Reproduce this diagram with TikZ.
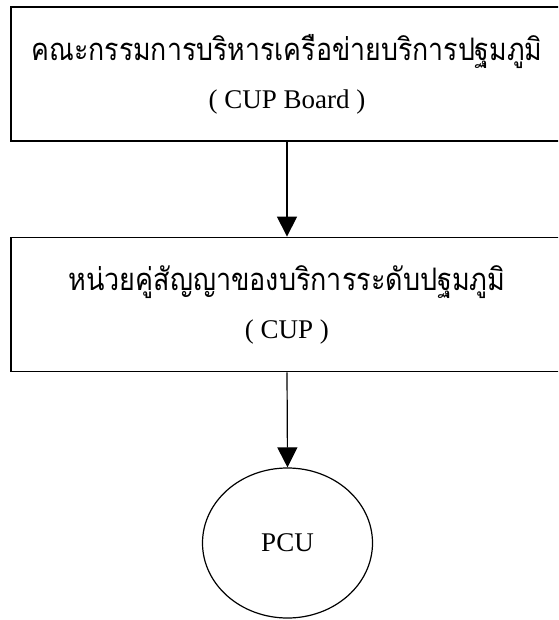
\documentclass[tikz,border=0pt]{standalone}
\usepackage{fontspec}
\usepackage{graphicx}
\setmainfont{Liberation Serif}
\newfontfamily\thaifont[Script=Thai]{Loma}
\usetikzlibrary{arrows.meta,shapes.geometric}
\newcommand{\thline}[2]{\resizebox{#1}{\height}{\thaifont\fontsize{31}{40}\selectfont #2}}
\begin{document}
\begin{tikzpicture}[x=1pt,y=-1pt,
  box/.style={draw,line width=1.8pt,minimum width=552pt,minimum height=134pt,align=center,inner sep=0pt,font=\fontsize{27}{48}\selectfont},
  conn/.style={line width=1.2pt,-{Triangle[length=20pt,width=20pt]}},
  pcustyle/.style={draw,ellipse,line width=1.2pt,minimum width=170pt,minimum height=150pt,inner sep=0pt,font=\fontsize{27}{32}\selectfont}]
\clip (0,0) rectangle (558,620);
\node[box] (board) at (287,74) {\thline{511pt}{คณะกรรมการบริหารเครือข่ายบริการปฐมภูมิ}\\( CUP Board )};
\node[box] (cup) at (287,304.5) {\thline{437pt}{หน่วยคู่สัญญาของบริการระดับปฐมภูมิ}\\( CUP )};
\node[pcustyle] (pcu) at (287.5,543) {PCU};
\draw[conn] (board.south) -- (cup.north);
\draw[conn] (cup.south) -- (pcu.north);
\end{tikzpicture}
\end{document}
